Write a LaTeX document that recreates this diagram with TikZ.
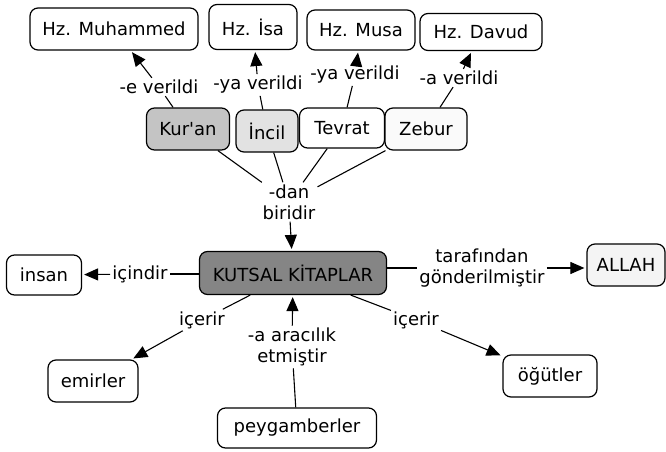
\documentclass[tikz,border=0pt]{standalone}
\usepackage{fontspec}
\setmainfont{DejaVu Sans}[Ligatures=TeXOff]
\usetikzlibrary{arrows.meta}
\definecolor{kuranfill}{HTML}{C4C4C4}
\definecolor{incilfill}{HTML}{E2E2E2}
\definecolor{kutsalfill}{HTML}{858585}
\definecolor{allahfill}{HTML}{F4F4F4}
\definecolor{zeburfill}{HTML}{FAFAFA}
\begin{document}
\begin{tikzpicture}[x=1pt,y=-1pt,
  concept/.style={draw=black, line width=1.2pt, rounded corners=8pt, fill=white,
    minimum height=42pt, inner sep=0pt, font=\fontsize{18}{21}\selectfont},
  lbl/.style={inner sep=2pt, align=center, font=\fontsize{18}{21}\selectfont},
  link/.style={line width=1.1pt},
  arr/.style={line width=1.1pt, shorten >=2pt, -{Triangle[length=14pt,width=12pt]}}
]
\useasboundingbox (0,0) rectangle (666,452);
% top row
\node[concept, minimum width=168pt] (hzm) at (114,29) {Hz. Muhammed};
\node[concept, minimum width=88pt, minimum height=45pt] (hzi) at (253,27) {Hz. İsa};
\node[concept, minimum width=108pt, minimum height=40pt] (hzmu) at (361,30) {Hz. Musa};
\node[concept, minimum width=122pt, minimum height=37pt] (hzd) at (481,32) {Hz. Davud};
% books
\node[concept, minimum width=83pt, fill=kuranfill] (kuran) at (188,129) {Kur'an};
\node[concept, minimum width=62pt, fill=incilfill] (incil) at (267,131) {İncil};
\node[concept, minimum width=85pt, minimum height=40pt] (tevrat) at (342,128) {Tevrat};
\node[concept, minimum width=82pt, fill=zeburfill] (zebur) at (426,129) {Zebur};
% center
\node[concept, minimum width=187pt, minimum height=43pt, fill=kutsalfill] (kutsal) at (293,273) {KUTSAL KİTAPLAR};
\node[concept, minimum width=75pt, minimum height=40pt] (insan) at (44,275) {insan};
\node[concept, minimum width=78pt, fill=allahfill] (allah) at (626,265) {ALLAH};
\node[concept, minimum width=90pt] (emirler) at (93,381) {emirler};
\node[concept, minimum width=94pt] (ogutler) at (550,376) {öğütler};
\node[concept, minimum width=159pt, minimum height=40pt] (peyg) at (297,428) {peygamberler};
% labels
\node[lbl] (le) at (159,87) {-e verildi};
\node[lbl] (lyi) at (258,85) {-ya verildi};
\node[lbl] (lym) at (355,75) {-ya verildi};
\node[lbl] (la) at (459,78) {-a verildi};
\node[lbl] (ldan) at (289,202) {-dan\\biridir};
\node[lbl] (lic) at (140,274) {içindir};
\node[lbl] (ltar) at (482,268) {tarafından\\gönderilmiştir};
\node[lbl] (lce1) at (202,320) {içerir};
\node[lbl] (lce2) at (416,320) {içerir};
\node[lbl] (lara) at (292,347) {-a aracılık\\etmiştir};
% connectors
\draw[link] (kuran) -- (le);
\draw[arr] (le) -- (hzm);
\draw[link] (incil) -- (lyi);
\draw[arr] (lyi) -- (hzi);
\draw[link] (tevrat) -- (lym);
\draw[arr] (lym) -- (hzmu);
\draw[link] (zebur) -- (la);
\draw[arr] (la) -- (hzd);
\draw[link] (kuran) -- (ldan);
\draw[link] (incil) -- (ldan);
\draw[link] (tevrat) -- (ldan);
\draw[link] (zebur) -- (ldan);
\draw[arr] (ldan) -- (kutsal);
\draw[link] (kutsal.west |- lic.east) -- (lic.east);
\draw[arr] (lic) -- (insan);
\draw[link] (kutsal.east |- ltar.west) -- (ltar.west);
\draw[arr] (ltar.east) -- (allah.west |- ltar.east);
\draw[link] (kutsal) -- (lce1);
\draw[arr] (lce1) -- (emirler);
\draw[link] (kutsal) -- (lce2);
\draw[arr] (lce2) -- (ogutler);
\draw[link] (peyg) -- (lara);
\draw[arr] (lara) -- (kutsal);
\end{tikzpicture}
\end{document}
